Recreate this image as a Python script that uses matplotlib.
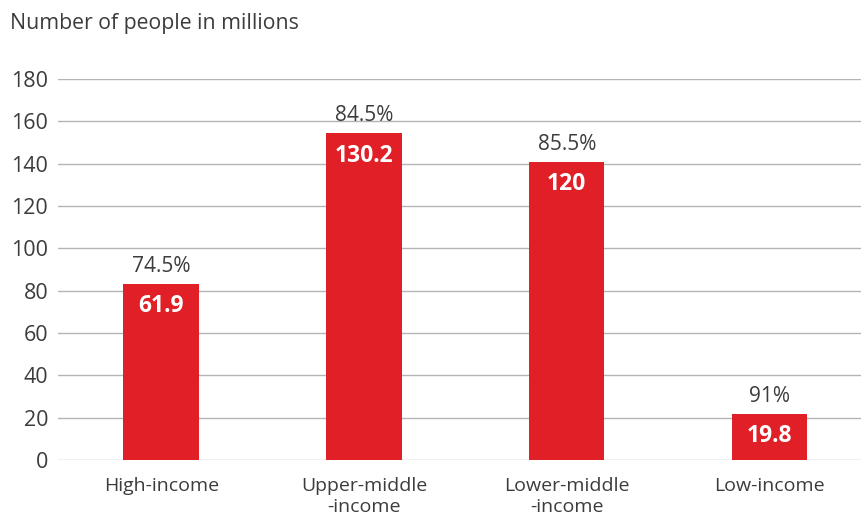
import matplotlib.pyplot as plt
import numpy as np

plt.rcParams['font.family'] = ['Open Sans', 'DejaVu Sans']

categories = ['High-income', 'Upper-middle\n-income', 'Lower-middle\n-income', 'Low-income']
bar_heights = [83.3, 154.3, 141.0, 21.7]
values = ['61.9', '130.2', '120', '19.8']
shares = ['74.5%', '84.5%', '85.5%', '91%']

red = '#e01f26'
txt = '#3c3c3c'

fig = plt.figure(figsize=(8.61, 5.17), dpi=100)
ax = fig.add_axes([58 / 861, (517 - 460) / 517, 803 / 861, 381 / 517])

x = np.arange(len(categories))
ax.bar(x, bar_heights, width=0.372, color=red, zorder=3)

for i in range(len(x)):
    ax.annotate(shares[i], (x[i], bar_heights[i]), xytext=(0, 5), textcoords='offset points',
                ha='center', va='bottom', fontsize=15, color=txt)
    ax.annotate(values[i], (x[i], bar_heights[i]), xytext=(0, -16), textcoords='offset points',
                ha='center', va='center', fontsize=16.5, fontweight='bold', color='white', zorder=4)

ax.set_xlim(-0.509, 3.451)
ax.set_ylim(0, 180)
ax.set_yticks(np.arange(0, 181, 20))
ax.set_xticks(x)
ax.set_xticklabels(categories, fontsize=14, color=txt, linespacing=1.25)
ax.tick_params(axis='y', labelsize=15.5, labelcolor=txt, length=0, pad=7)
ax.tick_params(axis='x', length=0, pad=12)
ax.grid(axis='y', color='#b4b4b4', linewidth=1, zorder=0)
for s in ax.spines.values():
    s.set_visible(False)

fig.text(10 / 861, 1 - 24 / 517, 'Number of people in millions', fontsize=15.3, color=txt,
         ha='left', va='center')

fig.savefig('out.png', dpi=100)
